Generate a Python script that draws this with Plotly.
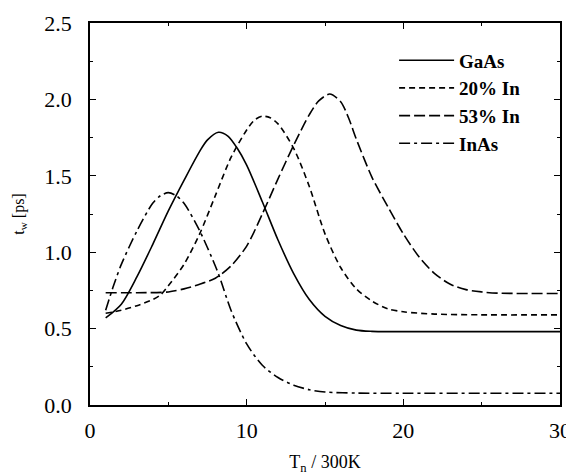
import plotly.graph_objects as go

# ---- data ----
gaas_x = [1, 2, 3, 4, 5, 6, 7, 7.5, 8.2, 8.8, 9.4, 10, 11, 12, 13, 14, 15, 16, 17, 18, 19, 20, 25, 30]
gaas_y = [0.57, 0.66, 0.84, 1.05, 1.27, 1.47, 1.66, 1.735, 1.785, 1.76, 1.68, 1.57, 1.33, 1.08, 0.86, 0.69, 0.58, 0.52, 0.49, 0.482, 0.48, 0.48, 0.48, 0.48]

in20_x = [1, 2, 3, 4, 4.5, 5, 6, 7, 8, 9, 10, 10.5, 11, 11.5, 12, 13, 14, 15, 16, 17, 18, 19, 20, 22, 25, 30]
in20_y = [0.60, 0.62, 0.65, 0.69, 0.72, 0.78, 0.92, 1.12, 1.37, 1.62, 1.80, 1.865, 1.89, 1.88, 1.84, 1.68, 1.43, 1.12, 0.90, 0.76, 0.68, 0.63, 0.61, 0.595, 0.59, 0.59]

in53_x = [1, 3, 5, 6, 7, 8, 9, 10, 11, 12, 13, 14, 14.6, 15.3, 16, 16.5, 17, 18, 19, 20, 21, 22, 23, 24, 25, 26, 30]
in53_y = [0.735, 0.735, 0.74, 0.76, 0.79, 0.83, 0.91, 1.04, 1.25, 1.48, 1.70, 1.90, 1.99, 2.035, 1.985, 1.88, 1.74, 1.49, 1.30, 1.12, 0.97, 0.86, 0.79, 0.755, 0.74, 0.732, 0.73]

inas_x = [1, 1.5, 2, 3, 4, 4.5, 5, 5.5, 6, 7, 8, 8.3, 9, 10, 11, 12, 13, 14, 15, 17, 20, 25, 30]
inas_y = [0.62, 0.78, 0.92, 1.14, 1.32, 1.37, 1.39, 1.37, 1.32, 1.14, 0.91, 0.83, 0.62, 0.40, 0.26, 0.18, 0.13, 0.10, 0.085, 0.078, 0.077, 0.077, 0.077]

series_names = ["GaAs", "20% In", "53% In", "InAs"]
x_ticks = [0, 10, 20, 30]
y_ticks = [0.0, 0.5, 1.0, 1.5, 2.0, 2.5]
y_tick_labels = ["0.0", "0.5", "1.0", "1.5", "2.0", "2.5"]

# ---- figure ----
FONT = "Liberation Serif, Times New Roman, serif"
dashes = ["solid", "6px,4px", "11px,4px", "11px,4px,3px,4px"]
data = [(gaas_x, gaas_y), (in20_x, in20_y), (in53_x, in53_y), (inas_x, inas_y)]

fig = go.Figure()
for (xs, ys), name, dash in zip(data, series_names, dashes):
    fig.add_trace(go.Scatter(
        x=xs, y=ys, mode="lines", name=name,
        line=dict(color="black", width=1.6, dash=dash, shape="spline", smoothing=0.8),
    ))

# the page body has an 8px margin, so the figure is sized to fit beside it
fig.update_layout(
    width=566, height=467,
    margin=dict(l=82, r=14, t=15, b=70),
    paper_bgcolor="white", plot_bgcolor="white",
    font=dict(family=FONT, color="black", size=22),
    showlegend=True,
    legend=dict(
        x=0.647, y=0.952, xanchor="left", yanchor="top",
        bgcolor="rgba(0,0,0,0)", borderwidth=0,
        itemwidth=55,
        font=dict(family=FONT, size=19, color="black", weight="bold"),
        traceorder="normal",
    ),
)

axis_common = dict(
    showline=True, linecolor="black", linewidth=1.5, mirror="allticks",
    ticks="inside", ticklen=6, tickwidth=1.2, tickcolor="black",
    showgrid=False, zeroline=False, automargin=False,
    tickfont=dict(family=FONT, size=22, color="black"),
    ticklabeloverflow="allow",
)

fig.update_xaxes(
    range=[0, 30], tickvals=x_ticks,
    minor=dict(dtick=5, ticks="inside", ticklen=3, tickcolor="black"),
    ticklabelstandoff=5,
    title=dict(text="T<sub>n</sub> / 300K", font=dict(family=FONT, size=18), standoff=20),
    **axis_common,
)
fig.update_yaxes(
    range=[0, 2.5], tickvals=y_ticks, ticktext=y_tick_labels,
    minor=dict(dtick=0.25, ticks="inside", ticklen=3, tickcolor="black"),
    ticklabelstandoff=12,
    title=dict(text="t<sub>w</sub> [ps]", font=dict(family=FONT, size=16), standoff=16),
    **axis_common,
)

fig.write_html("out.html")
